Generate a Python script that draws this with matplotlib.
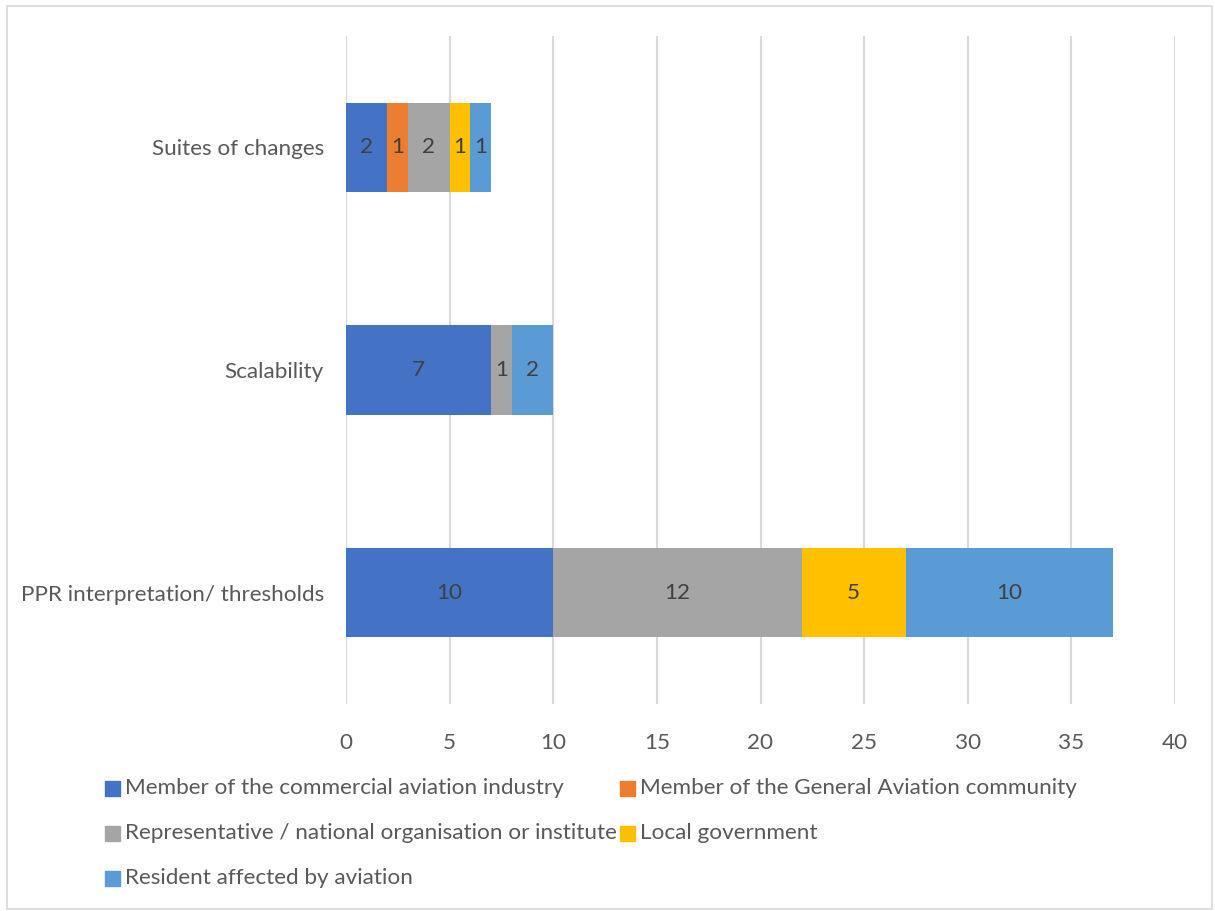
import matplotlib.pyplot as plt
from matplotlib.patches import Rectangle

categories = ["PPR interpretation/ thresholds", "Scalability", "Suites of changes"]
series_names = [
    "Member of the commercial aviation industry",
    "Member of the General Aviation community",
    "Representative / national organisation or institute",
    "Local government",
    "Resident affected by aviation",
]
commercial = [10, 7, 2]
general_aviation = [0, 0, 1]
representative = [12, 1, 2]
local_gov = [5, 0, 1]
resident = [10, 2, 1]
series_values = [commercial, general_aviation, representative, local_gov, resident]
colors = ["#4472C4", "#ED7D31", "#A5A5A5", "#FFC000", "#5B9BD5"]
x_ticks = [0, 5, 10, 15, 20, 25, 30, 35, 40]

plt.rcParams['font.family'] = ['Lato', 'DejaVu Sans']
W, H = 1215, 911
fig = plt.figure(figsize=(W / 100, H / 100), dpi=100)
ax = fig.add_axes([346 / W, 1 - 704 / H, (1175 - 346) / W, (704 - 36) / H])

txt = "#595959"
fs = 16.2
ypos = list(range(len(categories)))
left = [0] * len(categories)
for name, vals, c in zip(series_names, series_values, colors):
    bars = ax.barh(ypos, vals, left=left, height=0.4, color=c, label=name, zorder=3)
    for b, v in zip(bars, vals):
        if v:
            ax.text(b.get_x() + b.get_width() / 2, b.get_y() + b.get_height() / 2, str(v),
                    ha='center', va='center', color="#404040", fontsize=fs, zorder=4)
    left = [l + v for l, v in zip(left, vals)]

ax.set_xlim(0, 40)
ax.set_ylim(-0.5, len(categories) - 0.5)
ax.set_xticks(x_ticks)
ax.set_xticklabels([str(t) for t in x_ticks])
ax.set_yticks(ypos)
ax.set_yticklabels(categories)
ax.tick_params(axis='both', length=0, labelsize=fs, labelcolor=txt)
ax.tick_params(axis='x', pad=21)
ax.tick_params(axis='y', pad=16)
ax.grid(axis='x', color="#D9D9D9", linewidth=1.5, zorder=0)
for s in ax.spines.values():
    s.set_visible(False)

# legend laid out row-wise like the reference
legend_pos = [(105, 788), (620, 788), (105, 833), (620, 833), (105, 878)]
for (px, py), name, c in zip(legend_pos, series_names, colors):
    fig.patches.append(Rectangle((px / W, 1 - (py + 8) / H), 15 / W, 15 / H,
                                 transform=fig.transFigure, color=c))
    fig.text((px + 20) / W, 1 - py / H, name, ha='left', va='center', fontsize=fs, color=txt)

fig.patches.append(Rectangle((7 / W, 1 - 909 / H), (1212 - 7) / W, (909 - 6) / H,
                             transform=fig.transFigure, fill=False, edgecolor="#D9D9D9", linewidth=1.2))

fig.savefig("out.png", dpi=100)
